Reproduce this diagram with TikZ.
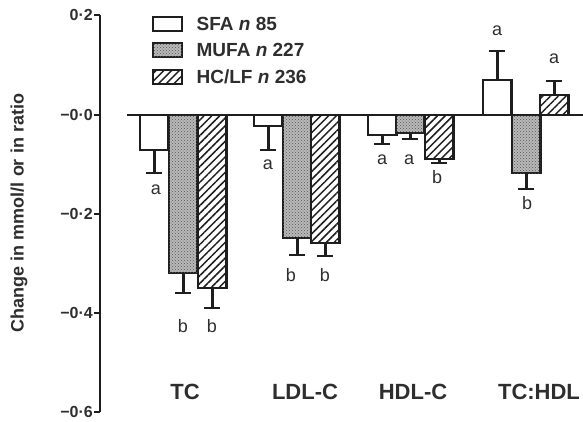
\documentclass[tikz,border=0pt]{standalone}
\usepackage{fontspec}
\setmainfont{Liberation Sans}
\usetikzlibrary{patterns,patterns.meta,positioning}

\definecolor{ink}{HTML}{1E1E1E}
\definecolor{txt}{HTML}{2E2E2E}

\begin{document}
\begin{tikzpicture}[x=1pt,y=-1pt,
  barbox/.style={draw=ink,line width=2.9pt},
  sfa/.style={barbox,fill=white},
  mufa/.style={barbox,fill=gray!55,postaction={pattern=crosshatch dots,pattern color=ink!75}},
  hclf/.style={barbox,fill=white,postaction={pattern={Lines[angle=45,distance=5.5pt,line width=1.5pt]},pattern color=ink}},
  errbar/.style={draw=ink,line width=2.9pt},
  sig/.style={font=\fontsize{18}{18}\selectfont,text=txt,inner sep=0pt},
  ticklab/.style={font=\bfseries\fontsize{16}{16}\selectfont,text=txt,anchor=east,inner sep=0pt},
  grouplab/.style={font=\bfseries\fontsize{22}{22}\selectfont,text=txt,inner sep=0pt},
  legtext/.style={font=\bfseries\fontsize{19}{19}\selectfont,text=txt,anchor=west,inner sep=0pt},
  ylab/.style={font=\bfseries\fontsize{18}{18}\selectfont,text=txt,inner sep=0pt}]
\useasboundingbox (0,0) rectangle (583,421);

% axis
\draw[ink,line width=2.3pt] (100,15) -- (100,412);
\foreach \v/\t [count=\i] in {15/0·2,115/−0·0,214/−0·2,313/−0·4,412/−0·6}{
  \draw[ink,line width=2.3pt] (94,\v) -- (100,\v);
  \node[ticklab] (tk\i) at (93,\v) {\t};
}
\node[ylab,rotate=90] (ytitle) at (19,213) {Change in mmol/l or in ratio};
\draw[ink,line width=1.8pt] (127,115) -- (583,115);

% bars
\foreach \n/\x/\v/\e/\k in {1/140/150/173/sfa,2/169/273/293/mufa,3/198/288/308/hclf,
  4/254/126/150/sfa,5/283/238/255/mufa,6/311/243/256/hclf,
  7/368/135/144/sfa,8/396/133/139/mufa,9/425/159/163/hclf,
  10/483/80/51/sfa,11/512/173/189/mufa,12/540/95/81/hclf}{
  \draw[\k] (\x,115) rectangle (\x+28.5,\v);
  \coordinate (e\n) at (\x+14.25,\e);
  \draw[errbar] (\x+14.25,\v) -- (e\n);
  \draw[errbar] ([xshift=-8pt]e\n) -- ([xshift=8pt]e\n);
}

\node[sig] (s1) at (156,190) {a};
\node[sig] (s2) at (183,326) {b};
\node[sig] (s3) at (212,326) {b};
\node[sig] (s4) at (268,165) {a};
\node[sig] (s5) at (291,275) {b};
\node[sig] (s6) at (325,275) {b};
\node[sig] (s7) at (382,160) {a};
\node[sig] (s8) at (409,160) {a};
\node[sig] (s9) at (437,177) {b};
\node[sig] (s10) at (497,31) {a};
\node[sig] (s11) at (527,203) {b};
\node[sig] (s12) at (554,59) {a};

\node[grouplab] (gTC) at (185,392) {TC};
\node[grouplab] (gLDL) at (305,392) {LDL-C};
\node[grouplab] (gHDL) at (413,392) {HDL-C};
\node[grouplab] (gRatio) at (539,392) {TC:HDL};

% legend
\node[sfa,minimum width=29pt,minimum height=14pt,inner sep=0pt] (k1) at (167.5,24) {};
\node[mufa,minimum width=29pt,minimum height=14pt,inner sep=0pt] (k2) at (167.5,50) {};
\node[hclf,minimum width=29pt,minimum height=14pt,inner sep=0pt] (k3) at (167.5,77) {};
\node[legtext,right=13pt of k1] (l1) {SFA \textit{n} 85};
\node[legtext,right=13pt of k2] (l2) {MUFA \textit{n} 227};
\node[legtext,right=13pt of k3] (l3) {HC/LF \textit{n} 236};
\end{tikzpicture}
\end{document}
